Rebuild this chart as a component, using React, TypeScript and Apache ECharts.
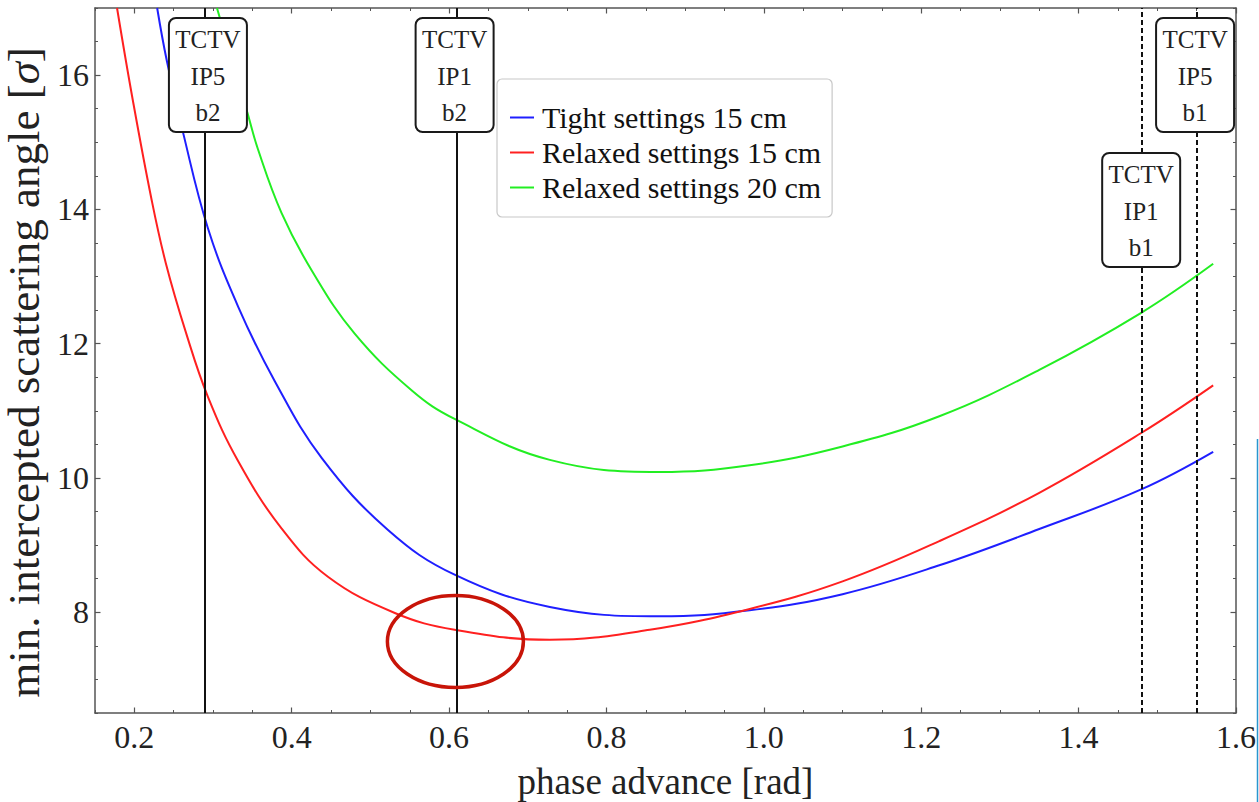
import React, { useEffect, useRef } from "react";
import * as echarts from "echarts";

// ---------- data ----------
const seriesNames = ["Tight settings 15 cm", "Relaxed settings 15 cm", "Relaxed settings 20 cm"];
const seriesColors = ["#1f1fff", "#ff2020", "#22ee22"];

const tightX = [0.229, 0.241, 0.262, 0.2935, 0.332, 0.379, 0.438, 0.522, 0.607, 0.728, 0.867, 0.982, 1.1, 1.223, 1.35, 1.4795, 1.571];
const tightY = [17.0, 16.23, 15.14, 13.72, 12.55, 11.43, 10.3, 9.23, 8.56, 8.08, 7.94, 8.03, 8.27, 8.7, 9.24, 9.83, 10.39];

const relaxed15X = [0.178, 0.198, 0.222, 0.24, 0.266, 0.2935, 0.332, 0.387, 0.446, 0.531, 0.607, 0.728, 0.855, 0.982, 1.1, 1.223, 1.35, 1.4795, 1.571];
const relaxed15Y = [17.0, 15.63, 14.14, 13.2, 12.15, 11.21, 10.25, 9.25, 8.53, 7.99, 7.74, 7.59, 7.74, 8.05, 8.46, 9.06, 9.78, 10.67, 11.38];

const relaxed20X = [0.305, 0.343, 0.357, 0.387, 0.426, 0.48, 0.553, 0.607, 0.728, 0.867, 0.982, 1.1, 1.223, 1.35, 1.4795, 1.571];
const relaxed20Y = [17.0, 15.47, 14.9, 13.95, 13.08, 12.15, 11.3, 10.88, 10.27, 10.09, 10.19, 10.47, 10.92, 11.61, 12.46, 13.19];

const xTickLabels = [0.2, 0.4, 0.6, 0.8, 1.0, 1.2, 1.4, 1.6];
const yTickLabels = [8, 10, 12, 14, 16];

const markerLabels = ["TCTV\nIP5\nb2", "TCTV\nIP1\nb2", "TCTV\nIP1\nb1", "TCTV\nIP5\nb1"];
const markerX = [0.2935, 0.607, 1.4795, 1.548];
const markerDashed = [false, false, true, true];

const highlightCenter = [0.608, 7.565];

// ---------- layout / style ----------
const FONT = "'Liberation Serif', 'Times New Roman', serif";
const AXIS_COLOR = "#555";
const X_MIN = 0.15, X_MAX = 1.6, Y_MIN = 6.5, Y_MAX = 17;
const boxTops = [18, 18, 153, 18];

const near = (arr: number[], v: number) => arr.some((t) => Math.abs(t - v) < 1e-6);

function makeXAxis(position: "bottom" | "top", major: boolean, withLabels: boolean) {
  return {
    type: "value",
    min: X_MIN,
    max: X_MAX,
    interval: 0.05,
    position,
    axisLine: { show: !major, onZero: false, lineStyle: { color: AXIS_COLOR, width: 1.5 } },
    axisTick: major
      ? { show: true, inside: true, length: 5.5, customValues: xTickLabels, lineStyle: { color: AXIS_COLOR, width: 1.2 } }
      : { show: true, inside: true, length: 3, lineStyle: { color: AXIS_COLOR, width: 1 } },
    axisLabel: withLabels
      ? {
          show: true,
          margin: 8,
          fontFamily: FONT,
          fontSize: 32,
          color: "#222",
          formatter: (v: number) => (near(xTickLabels, v) ? v.toFixed(1) : ""),
        }
      : { show: false },
    splitLine: { show: false },
    ...(withLabels
      ? {
          name: "phase advance [rad]",
          nameLocation: "middle",
          nameGap: 50,
          nameTextStyle: { fontFamily: FONT, fontSize: 37, color: "#222" },
        }
      : {}),
  };
}

function makeYAxis(position: "left" | "right", major: boolean, withLabels: boolean) {
  return {
    type: "value",
    min: Y_MIN,
    max: Y_MAX,
    interval: 0.5,
    position,
    axisLine: { show: !major, onZero: false, lineStyle: { color: AXIS_COLOR, width: 1.5 } },
    axisTick: major
      ? { show: true, inside: true, length: 5.5, customValues: yTickLabels, lineStyle: { color: AXIS_COLOR, width: 1.2 } }
      : { show: true, inside: true, length: 3, lineStyle: { color: AXIS_COLOR, width: 1 } },
    axisLabel: withLabels
      ? {
          show: true,
          margin: 6,
          fontFamily: FONT,
          fontSize: 32,
          color: "#222",
          formatter: (v: number) => (near(yTickLabels, v) ? String(Math.round(v)) : ""),
        }
      : { show: false },
    splitLine: { show: false },
    ...(withLabels
      ? {
          name: "min. intercepted scattering angle [{s|σ}]",
          nameLocation: "middle",
          nameGap: 32,
          nameTextStyle: {
            fontFamily: FONT,
            fontSize: 45,
            color: "#222",
            padding: [0, 24, 0, 0],
            rich: { s: { fontFamily: FONT, fontSize: 45, fontStyle: "italic", color: "#222" } },
          },
        }
      : {}),
  };
}

export default function App() {
  const ref = useRef<HTMLDivElement>(null);

  useEffect(() => {
    if (!ref.current) return;
    const chart = echarts.init(ref.current, undefined, { renderer: "svg" });

    const curves = [
      [tightX, tightY],
      [relaxed15X, relaxed15Y],
      [relaxed20X, relaxed20Y],
    ];

    const lineSeries = curves.map(([xs, ys], i) => ({
      name: seriesNames[i],
      type: "line",
      xAxisIndex: 0,
      yAxisIndex: 0,
      data: xs.map((x, k) => [x, ys[k]]),
      showSymbol: false,
      symbol: "none",
      smooth: 0.4,
      clip: true,
      lineStyle: { color: seriesColors[i], width: 2 },
      itemStyle: { color: seriesColors[i] },
      z: 3,
    }));

    const markerSeries = {
      name: "markers",
      type: "line",
      xAxisIndex: 0,
      yAxisIndex: 0,
      data: [],
      silent: true,
      z: 2,
      markLine: {
        silent: true,
        symbol: ["none", "none"],
        label: { show: false },
        emphasis: { disabled: true },
        data: markerX.map((x, i) => ({
          xAxis: x,
          lineStyle: {
            color: "#111",
            width: 2,
            type: markerDashed[i] ? [5, 3] : "solid",
          },
        })),
      },
    };

    chart.setOption({
      animation: false,
      backgroundColor: "#ffffff",
      grid: { left: 95, right: 23, top: 8, bottom: 89, containLabel: false, outerBoundsMode: "none" },
      xAxis: [
        makeXAxis("bottom", false, true),
        makeXAxis("bottom", true, false),
        makeXAxis("top", false, false),
        makeXAxis("top", true, false),
      ],
      yAxis: [
        makeYAxis("left", false, true),
        makeYAxis("left", true, false),
        makeYAxis("right", false, false),
        makeYAxis("right", true, false),
      ],
      legend: {
        show: true,
        data: seriesNames,
        orient: "vertical",
        left: 497,
        top: 79,
        backgroundColor: "#ffffff",
        borderColor: "#c8c8c8",
        borderWidth: 1.2,
        borderRadius: 5,
        padding: [22, 11, 13, 13],
        itemGap: 2,
        itemWidth: 24,
        itemHeight: 2,
        icon: "rect",
        selectedMode: false,
        textStyle: { fontFamily: FONT, fontSize: 30, color: "#111", lineHeight: 33, padding: [0, 0, 0, 3] },
      },
      series: [...lineSeries, markerSeries],
    });

    // annotations positioned through the axes
    const boxW = 78, boxH = 114;
    const graphics: any[] = [];
    markerX.forEach((x, i) => {
      const px = chart.convertToPixel({ xAxisIndex: 0 }, x) as number;
      graphics.push({
        type: "group",
        x: px - boxW / 2,
        y: boxTops[i],
        z: 100,
        children: [
          {
            type: "rect",
            shape: { x: 0, y: 0, width: boxW, height: boxH, r: 7 },
            style: { fill: "#ffffff", stroke: "#1a1a1a", lineWidth: 2 },
            z: 100,
          },
          {
            type: "text",
            x: boxW / 2,
            y: boxH / 2 + 1,
            z: 101,
            style: {
              text: markerLabels[i],
              align: "center",
              verticalAlign: "middle",
              fontFamily: FONT,
              fontSize: 25,
              lineHeight: 36.5,
              fill: "#222",
            },
          },
        ],
      });
    });

    const c = chart.convertToPixel({ xAxisIndex: 0, yAxisIndex: 0 }, highlightCenter) as number[];
    graphics.push({
      type: "ellipse",
      z: 110,
      shape: { cx: c[0], cy: c[1], rx: 68, ry: 46 },
      style: { fill: "none", stroke: "#c81408", lineWidth: 3.5 },
    });

    graphics.push({
      type: "line",
      z: 110,
      shape: { x1: 1257.5, y1: 439, x2: 1257.5, y2: 802 },
      style: { stroke: "#2a96cf", lineWidth: 1.5 },
    });

    chart.setOption({ graphic: graphics });

    return () => {
      chart.dispose();
    };
  }, []);

  return (
    <div
      ref={ref}
      style={{ position: "absolute", left: 0, top: 0, width: 1259, height: 802, background: "#fff" }}
    />
  );
}
